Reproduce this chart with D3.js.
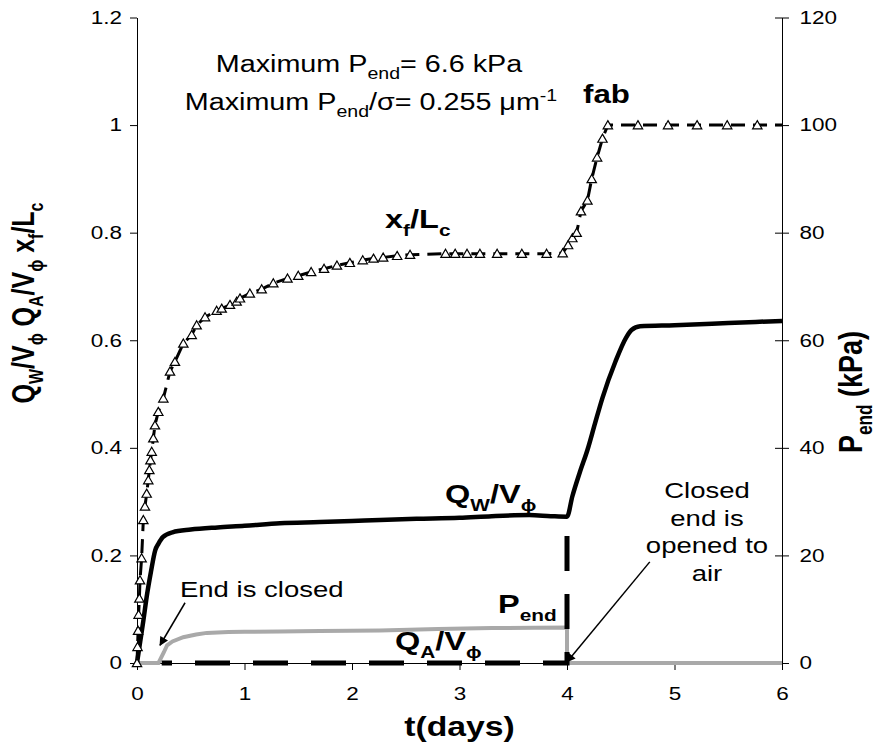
<!DOCTYPE html>
<html>
<head>
<meta charset="utf-8">
<script src="https://cdn.jsdelivr.net/npm/d3@7/dist/d3.min.js"></script>
<style>
  body { margin: 0; background: #fff; }
  svg text { font-family: "Liberation Sans", Arial, sans-serif; }
</style>
</head>
<body>
<svg id="chart" width="877" height="751"></svg>
<script>
// ---------- data ----------
const xTicks = [0, 1, 2, 3, 4, 5, 6];
const yTicks = [0, 0.2, 0.4, 0.6, 0.8, 1, 1.2];
const y2Ticks = [0, 20, 40, 60, 80, 100, 120];

// x_f / L_c (markers + dashed line)
const xfT = [0, 0.005, 0.01, 0.015, 0.022, 0.028, 0.043, 0.059, 0.074, 0.09, 0.105, 0.115, 0.125, 0.137, 0.152, 0.167, 0.198, 0.245, 0.307, 0.353, 0.431, 0.509, 0.555, 0.633, 0.741, 0.788, 0.865, 0.927, 0.958, 1.05, 1.16, 1.268, 1.4, 1.5, 1.62, 1.74, 1.86, 1.98, 2.1, 2.2, 2.29, 2.42, 2.54, 2.87, 2.96, 3.07, 3.19, 3.35, 3.58, 3.81, 3.96, 4.01, 4.05, 4.09, 4.13, 4.19, 4.23, 4.28, 4.33, 4.38, 4.66, 4.94, 5.21, 5.49, 5.77, 6.0];
const xfV = [0, 0.03, 0.06, 0.09, 0.12, 0.154, 0.195, 0.266, 0.291, 0.315, 0.340, 0.359, 0.377, 0.393, 0.418, 0.442, 0.467, 0.492, 0.542, 0.560, 0.594, 0.610, 0.628, 0.643, 0.655, 0.659, 0.666, 0.672, 0.678, 0.687, 0.695, 0.706, 0.715, 0.72, 0.727, 0.733, 0.739, 0.744, 0.749, 0.752, 0.754, 0.757, 0.759, 0.761, 0.761, 0.761, 0.761, 0.761, 0.761, 0.761, 0.762, 0.777, 0.79, 0.80, 0.84, 0.86, 0.9, 0.94, 0.975, 1.0, 1.0, 1.0, 1.0, 1.0, 1.0, 1.0];
const xfMarker = xfT.map((t, i) => i !== xfT.length - 1);

// Q_W / V_phi (solid)
const qwT = [0, 0.03, 0.06, 0.09, 0.13, 0.17, 0.2, 0.24, 0.33, 0.5, 0.75, 1.0, 1.33, 1.7, 2.0, 2.26, 2.6, 3.0, 3.3, 3.65, 3.85, 4.0, 4.05, 4.12, 4.19, 4.26, 4.33, 4.45, 4.55, 4.6, 4.68, 5.0, 5.5, 6.0];
const qwV = [0, 0.04, 0.08, 0.123, 0.17, 0.21, 0.222, 0.234, 0.243, 0.248, 0.252, 0.255, 0.26, 0.262, 0.264, 0.266, 0.268, 0.27, 0.273, 0.275, 0.273, 0.272, 0.31, 0.355, 0.396, 0.445, 0.493, 0.56, 0.605, 0.619, 0.626, 0.628, 0.632, 0.636];

// Q_A / V_phi (dashed)
const qaT = [0.23, 4, 4];
const qaV = [0, 0, 0.272];

// P_end (kPa, right axis, grey)
const pT = [0, 0.2, 0.22, 0.25, 0.28, 0.33, 0.43, 0.55, 0.65, 0.85, 1.0, 1.33, 1.7, 2.26, 2.8, 3.3, 3.7, 4.0, 4.0, 6.0];
const pV = [0, 0, 0.8, 2.0, 3.3, 4.0, 4.8, 5.3, 5.6, 5.75, 5.8, 5.85, 5.95, 6.05, 6.3, 6.5, 6.55, 6.6, 0, 0];

// ---------- scales ----------
const SX = 1.25; // horizontal stretch of all lettering in the reference
const svg = d3.select("#chart");
svg.append("rect").attr("width", 877).attr("height", 751).attr("fill", "#fff");

const x = d3.scaleLinear().domain([0, 6]).range([137, 782]);
const y = d3.scaleLinear().domain([0, 1.2]).range([663, 17.5]);
const y2 = d3.scaleLinear().domain([0, 120]).range([663, 17.5]);

// ---------- axes ----------
const fmtY = d => (d === 0 ? "0" : d === 1 ? "1" : d3.format(".1f")(d));

const gL = svg.append("g").attr("transform", `translate(${x(0)},0)`)
  .call(d3.axisLeft(y).tickValues(yTicks).tickFormat(fmtY).tickSize(7).tickSizeOuter(0).tickPadding(5));
const gR = svg.append("g").attr("transform", `translate(${x(6)},0)`)
  .call(d3.axisRight(y2).tickValues(y2Ticks).tickSize(7).tickSizeOuter(0).tickPadding(7));
gR.selectAll(".tick line").attr("x1", -7);
const gB = svg.append("g").attr("transform", `translate(0,${y(0)})`)
  .call(d3.axisBottom(x).tickValues(xTicks).tickFormat(d3.format("d")).tickSize(7).tickSizeOuter(0).tickPadding(17));

[gL, gR, gB].forEach(g => {
  g.selectAll("path.domain").attr("stroke", "#000").attr("stroke-width", 1);
  g.selectAll(".tick line").attr("stroke", "#000").attr("stroke-width", 1);
  g.selectAll(".tick text").attr("font-size", 18).attr("fill", "#000")
    .attr("font-family", "Liberation Sans, Arial, sans-serif")
    .attr("transform", `scale(${SX},1)`);
});

// ---------- series ----------
const line = d3.line().x(d => x(d[0])).y(d => y(d[1]));
const line2 = d3.line().x(d => x(d[0])).y(d => y2(d[1]));

// P_end grey
svg.append("path").datum(pT.map((t, i) => [t, pV[i]]))
  .attr("d", line2).attr("fill", "none").attr("stroke", "#a9a9a9").attr("stroke-width", 4);

// Q_W solid
svg.append("path").datum(qwT.map((t, i) => [t, qwV[i]]))
  .attr("d", d3.line().x(d => x(d[0])).y(d => y(d[1])).curve(d3.curveMonotoneX))
  .attr("fill", "none").attr("stroke", "#000")
  .attr("stroke-width", 4.5).attr("stroke-linejoin", "round");

// Q_A dashed
svg.append("path").datum(qaT.map((t, i) => [t, qaV[i]]))
  .attr("d", line).attr("fill", "none").attr("stroke", "#000")
  .attr("stroke-width", 5).attr("stroke-dasharray", "35,23")
  .attr("stroke-dashoffset", x(qaT[0]) - x(0));

// x_f/L_c dashed line + triangles
svg.append("path").datum(xfT.map((t, i) => [t, xfV[i]]))
  .attr("d", line).attr("fill", "none").attr("stroke", "#000")
  .attr("stroke-width", 3).attr("stroke-dasharray", "14,8");
const tri = d3.symbol().type(d3.symbolTriangle).size(38);
svg.append("g").selectAll("path")
  .data(xfT.map((t, i) => [t, xfV[i], xfMarker[i]]).filter(d => d[2]))
  .join("path")
  .attr("d", tri)
  .attr("transform", d => `translate(${x(d[0])},${y(d[1]) + 1})`)
  .attr("fill", "#fff").attr("stroke", "#000").attr("stroke-width", 1.2);

// ---------- text helpers ----------
function rich(t, parts, size, r) {
  const ratio = r || 0.68;
  let cur = 0;
  parts.forEach(([s, k]) => {
    const target = k === "sub" ? size * 0.3 : k === "sup" ? -size * 0.38 : 0;
    t.append("tspan").text(s)
      .attr("font-size", k === "n" ? size : size * ratio)
      .attr("dy", target - cur);
    cur = target;
  });
  return t;
}
function label(px, py, parts, size, opts) {
  const o = opts || {};
  const t = svg.append("text")
    .attr("transform", `translate(${px},${py}) scale(${SX},1)`)
    .attr("text-anchor", o.anchor || "start")
    .attr("font-weight", o.bold ? "bold" : "normal")
    .attr("fill", "#000");
  rich(t, parts, size, o.ratio);
  return t;
}

// annotations
label(369, 72, [["Maximum P", "n"], ["end", "sub"], ["= 6.6 kPa", "n"]], 23, { anchor: "middle" });
label(371, 110, [["Maximum P", "n"], ["end", "sub"], ["/σ= 0.255 μm", "n"], ["-1", "sup"]], 23, { anchor: "middle" });

label(583, 103, [["fab", "n"]], 25, { bold: true });
label(385, 228, [["x", "n"], ["f", "sub"], ["/L", "n"], ["c", "sub"]], 26, { bold: true, ratio: 0.64 });
label(445, 503, [["Q", "n"], ["W", "sub"], ["/V", "n"], ["ϕ", "sub"]], 26, { bold: true, ratio: 0.64 });
label(498, 613, [["P", "n"], ["end", "sub"]], 26, { bold: true, ratio: 0.64 });
label(395, 650, [["Q", "n"], ["A", "sub"], ["/V", "n"], ["ϕ", "sub"]], 26, { bold: true, ratio: 0.64 });

label(180, 597, [["End is closed", "n"]], 22);
["Closed", "end is", "opened to", "air"].forEach((s, i) =>
  label(707, 498 + i * 27.5, [[s, "n"]], 22, { anchor: "middle" }));

// arrows
const defs = svg.append("defs");
defs.append("marker").attr("id", "ah").attr("viewBox", "0 0 10 10").attr("refX", 9).attr("refY", 5)
  .attr("markerWidth", 10).attr("markerHeight", 9).attr("orient", "auto").attr("markerUnits", "userSpaceOnUse")
  .append("path").attr("d", "M0,0 L10,5 L0,10 Z").attr("fill", "#000");
svg.append("line").attr("x1", x(0.447)).attr("y1", y(0.112)).attr("x2", x(0.214)).attr("y2", y(0.033))
  .attr("stroke", "#000").attr("stroke-width", 1.5).attr("marker-end", "url(#ah)");
svg.append("line").attr("x1", x(4.77)).attr("y1", y(0.188)).attr("x2", x(4.0)).attr("y2", y(0.002))
  .attr("stroke", "#000").attr("stroke-width", 1.5).attr("marker-end", "url(#ah)");

// axis titles
label((x(0) + x(6)) / 2, 736, [["t(days)", "n"]], 27, { anchor: "middle", bold: true });

const lt = svg.append("text").attr("transform", `translate(34,303) scale(${SX},1) rotate(-90)`)
  .attr("text-anchor", "middle").attr("font-weight", "bold").attr("fill", "#000");
rich(lt, [["Q", "n"], ["W", "sub"], ["/V", "n"], ["ϕ", "sub"], [" Q", "n"], ["A", "sub"], ["/V", "n"], ["ϕ", "sub"], [" x", "n"], ["f", "sub"], ["/L", "n"], ["c", "sub"]], 25, 0.64);
const rt = svg.append("text").attr("transform", `translate(862,392) scale(${SX},1) rotate(-90)`)
  .attr("text-anchor", "middle").attr("font-weight", "bold").attr("fill", "#000");
rich(rt, [["P", "n"], ["end", "sub"], [" (kPa)", "n"]], 27, 0.64);
</script>
</body>
</html>
